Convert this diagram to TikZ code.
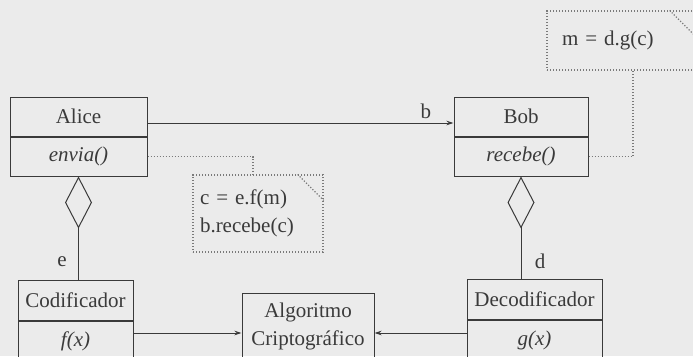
\documentclass[tikz,border=0pt]{standalone}
\usepackage{fontspec}
\setmainfont{Liberation Serif}
\usepackage{tikz}
\usetikzlibrary{arrows.meta}
\usetikzlibrary{positioning}

\definecolor{ink}{HTML}{3A3A3A}
\definecolor{paper}{HTML}{EBEBEB}
\definecolor{dots}{HTML}{7A7A7A}

\begin{document}
\begin{tikzpicture}[
  x=1pt, y=-1pt,
  > = {Stealth[length=7pt,width=4.5pt]},
  every node/.style = {font=\fontsize{21}{28}\selectfont, text=ink},
  cls/.style = {draw=ink, line width=1pt, inner sep=0pt, minimum height=39pt},
  op/.style = {cls, font=\fontsize{21}{28}\selectfont\itshape},
  note/.style = {draw=dots, line width=1.2pt, dash pattern=on 1.2pt off 1.8pt, inner sep=0pt},
  link/.style = {draw=ink, line width=1pt},
  aggr/.style = {link, -{Diamond[open,length=52pt,width=27pt]}},
  dep/.style = {draw=dots, line width=1.2pt, dash pattern=on 1.2pt off 1.8pt}
  ]
	\fill[paper] (0,0) rectangle (693,356);
	\useasboundingbox (0,0) rectangle (693,356);

	% classes
	\node[cls, minimum width=137pt] (alice) at (78.5,116.5) {Alice};
	\node[op, minimum width=137pt, below=0pt of alice] (alice op) {envia()};
	\node[cls, minimum width=134pt] (bob) at (521,116.5) {Bob};
	\node[op, minimum width=134pt, below=0pt of bob] (bob op) {recebe()};

	\node[cls, minimum width=115pt, minimum height=40pt] (cod) at (75.5,300) {Codificador};
	\node[op, minimum width=115pt, minimum height=40pt, below=0pt of cod] (cod op) {f(x)};
	\node[cls, minimum width=135pt, minimum height=40pt] (decod) at (534.5,299) {Decodificador};
	\node[op, minimum width=135pt, minimum height=40pt, below=0pt of decod] (decod op) {g(x)};

	\node[cls, minimum width=132pt, minimum height=82pt, anchor=north] (algo) at (308,293) {};
	\node[below=6pt of algo.north, align=center] (algo name) {Algoritmo\\Criptográfico};

	% notes
	\node[note, minimum width=130pt, minimum height=77pt, text width=116pt, align=left] (notec) at (258,213.5) {c = e.f(m)\\b.recebe(c)};
	\node[note, minimum width=148pt, minimum height=59pt, text width=118pt, align=left] (notem) at (621,40.5) {m = d.g(c)};
	\foreach \n in {notec,notem}
		\draw[dep] ([xshift=-26pt]\n.north east) -- ([yshift=-26pt]\n.north east);

	\draw[dep] (alice op.east) -| ([xshift=-5pt]notec.north);
	\draw[dep] (bob op.east) -| ([xshift=12pt]notem.south);

	% associations
	\coordinate (b out) at ([yshift=-6.5pt]alice.east);
	\draw[link,->] (b out) -- (b out -| bob.west) node[pos=0.91, above] {b};

	\draw[aggr] (alice op.south |- cod.north) -- (alice op.south) node[pos=0.17, left=8pt] {e};
	\draw[aggr] (bob op.south |- decod.north) -- (bob op.south) node[pos=0.17, right=10pt] {d};

	\coordinate (f out) at ([yshift=8pt]cod op.east);
	\coordinate (g out) at ([yshift=7pt]decod op.west);
	\draw[link,->] (f out) -- (f out -| algo.west);
	\draw[link,->] (g out) -- (g out -| algo.east);

\end{tikzpicture}
\end{document}
